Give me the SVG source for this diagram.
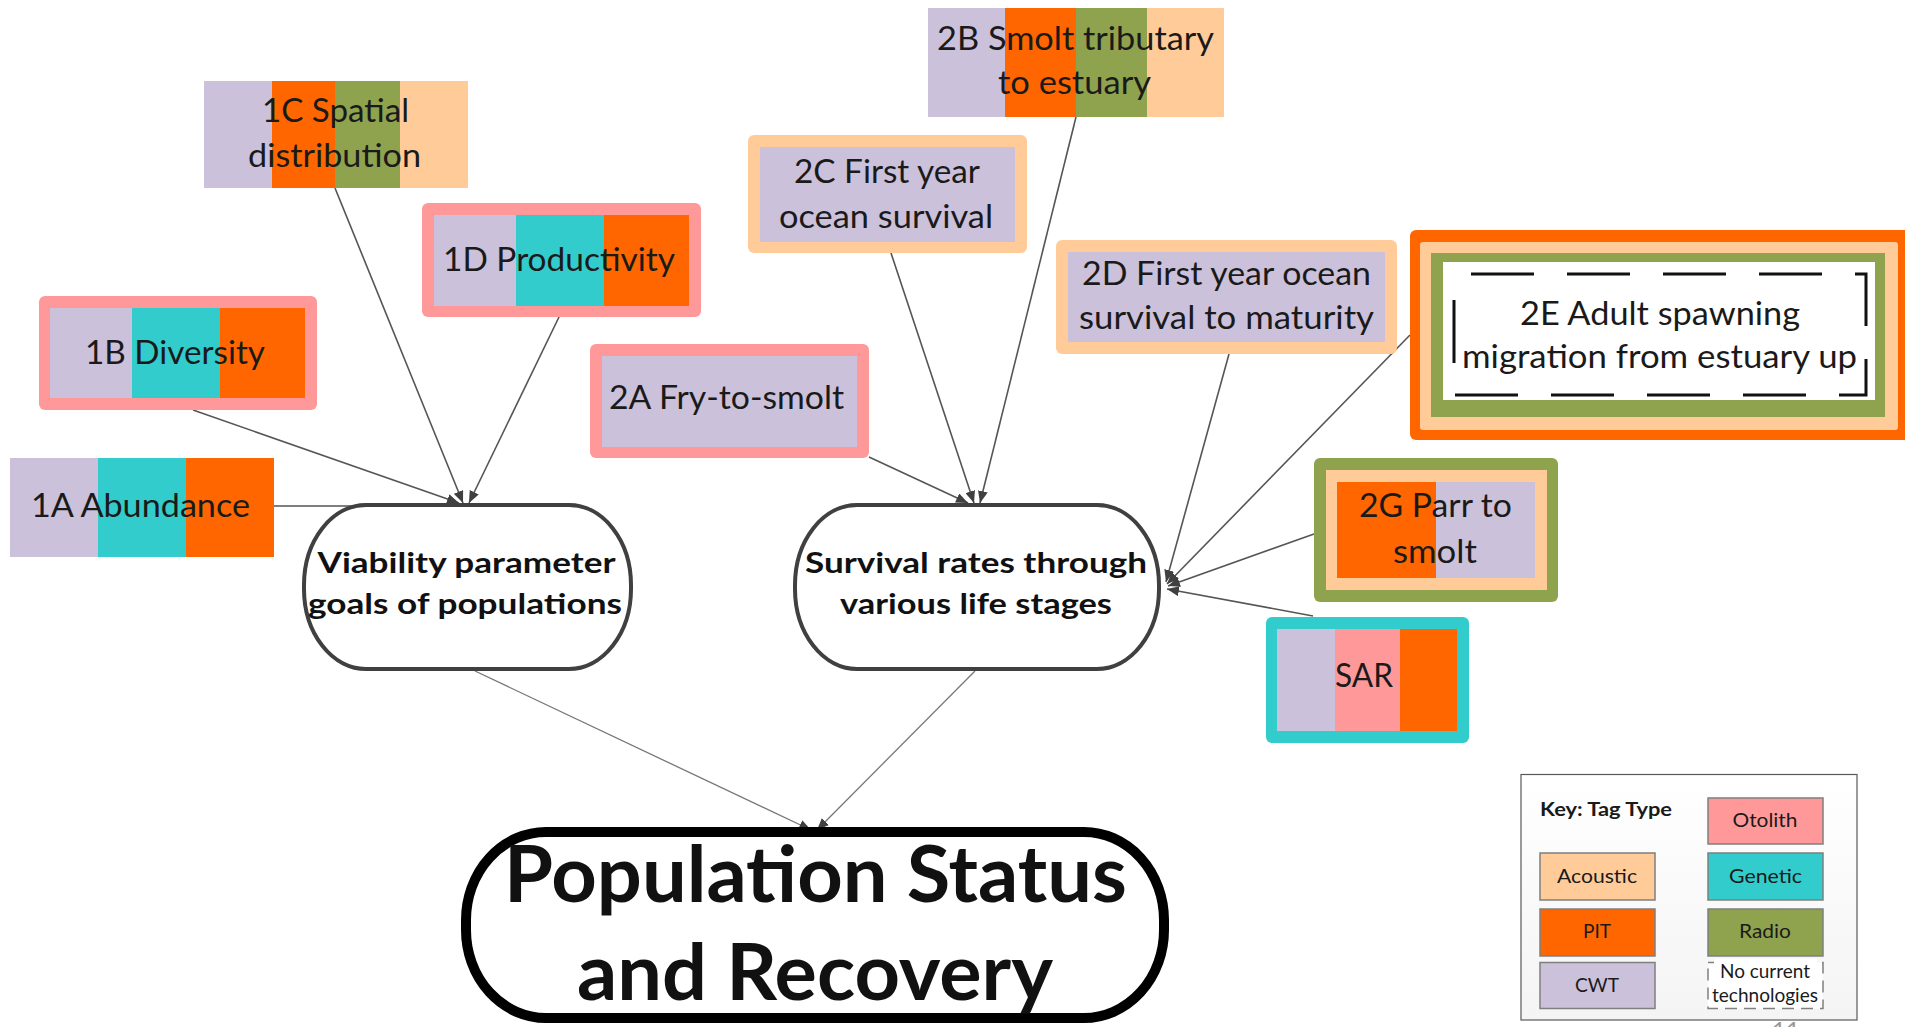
<svg xmlns="http://www.w3.org/2000/svg" width="1905" height="1027" viewBox="0 0 1905 1027">
<defs>
<style>
.t{font-family:Lato,"Liberation Sans",sans-serif;font-size:32px;fill:#1a1a1a;text-anchor:middle}
.b{font-family:Lato,"Liberation Sans",sans-serif;font-weight:bold;fill:#111;text-anchor:middle}
.cwt{fill:#ccc1da}.pit{fill:#ff6600}.radio{fill:#8fa34f}.acou{fill:#ffcc99}.gen{fill:#33cccc}.oto{fill:#ff9999}
.conn line{stroke:#555;stroke-width:1.6;marker-end:url(#ah)}
.node{fill:#fff;stroke:#404040;stroke-width:4}
.k{font-family:Lato,"Liberation Sans",sans-serif;font-size:20px;fill:#1a1a1a;text-anchor:middle}
.sw{stroke:#7f7f7f;stroke-width:1.5}
</style>
<marker id="ah" viewBox="0 0 12 10" refX="12" refY="5" markerWidth="12" markerHeight="10" markerUnits="userSpaceOnUse" orient="auto"><path d="M0,0 L12,5 L0,10 z" fill="#404040"/></marker>
<linearGradient id="kg" x1="0" y1="0" x2="0" y2="1"><stop offset="0" stop-color="#fff"/><stop offset="1" stop-color="#f4f4f4"/></linearGradient>
</defs>
<rect width="1905" height="1027" fill="#fff"/>

<g id="connectors" class="conn">
<line x1="335" y1="188" x2="463" y2="503"/>
<line x1="559" y1="317" x2="469" y2="503"/>
<line x1="193" y1="410" x2="459" y2="503"/>
<line x1="274" y1="506" x2="420" y2="506" style="marker-end:none"/>
<line x1="869" y1="457" x2="968" y2="503"/>
<line x1="891" y1="253" x2="974" y2="503"/>
<line x1="1076" y1="117" x2="980" y2="503"/>
<line x1="1229" y1="354" x2="1166" y2="582"/>
<line x1="1410" y1="335" x2="1167" y2="584"/>
<line x1="1314" y1="534" x2="1168" y2="586"/>
<line x1="1313" y1="616" x2="1167" y2="589"/>
<line x1="475" y1="671" x2="811" y2="830" style="stroke:#777;stroke-width:1.3"/>
<line x1="975" y1="671" x2="817" y2="830" style="stroke:#777;stroke-width:1.3"/>
</g>

<g id="n1C">
<rect class="cwt" x="204" y="81" width="68" height="107"/>
<rect class="pit" x="272" y="81" width="63" height="107"/>
<rect class="radio" x="335" y="81" width="65" height="107"/>
<rect class="acou" x="400" y="81" width="68" height="107"/>
<text class="t" x="335.5" y="122" textLength="147" lengthAdjust="spacingAndGlyphs">1C Spatial</text>
<text class="t" x="334.5" y="167" textLength="173" lengthAdjust="spacingAndGlyphs">distribution</text>
</g>

<g id="n1D">
<rect class="oto" x="422" y="203" width="279" height="114" rx="6"/>
<rect class="cwt" x="434" y="215" width="82" height="91"/>
<rect class="gen" x="516" y="215" width="88" height="91"/>
<rect class="pit" x="604" y="215" width="85" height="91"/>
<text class="t" x="559" y="271" textLength="232" lengthAdjust="spacingAndGlyphs">1D Productivity</text>
</g>

<g id="n1B">
<rect class="oto" x="39" y="296" width="278" height="114" rx="6"/>
<rect class="cwt" x="50" y="308" width="82" height="90"/>
<rect class="gen" x="132" y="308" width="88" height="90"/>
<rect class="pit" x="220" y="308" width="85" height="90"/>
<text class="t" x="175" y="364" textLength="180" lengthAdjust="spacingAndGlyphs">1B Diversity</text>
</g>

<g id="n1A">
<rect class="cwt" x="10" y="458" width="88" height="99"/>
<rect class="gen" x="98" y="458" width="88" height="99"/>
<rect class="pit" x="186" y="458" width="88" height="99"/>
<text class="t" x="140.5" y="517" textLength="219" lengthAdjust="spacingAndGlyphs">1A Abundance</text>
</g>

<g id="n2A">
<rect class="oto" x="590" y="344" width="279" height="114" rx="6"/>
<rect class="cwt" x="602" y="356" width="255" height="91"/>
<text class="t" x="726.5" y="409" textLength="235" lengthAdjust="spacingAndGlyphs">2A Fry-to-smolt</text>
</g>

<g id="n2C">
<rect class="acou" x="748" y="135" width="279" height="118" rx="6"/>
<rect class="cwt" x="760" y="147" width="255" height="95"/>
<text class="t" x="887" y="183" textLength="186" lengthAdjust="spacingAndGlyphs">2C First year</text>
<text class="t" x="886" y="228" textLength="214" lengthAdjust="spacingAndGlyphs">ocean survival</text>
</g>

<g id="n2B">
<rect class="cwt" x="928" y="8" width="77" height="109"/>
<rect class="pit" x="1005" y="8" width="71" height="109"/>
<rect class="radio" x="1076" y="8" width="71" height="109"/>
<rect class="acou" x="1147" y="8" width="77" height="109"/>
<text class="t" x="1075.5" y="50" textLength="277" lengthAdjust="spacingAndGlyphs">2B Smolt tributary</text>
<text class="t" x="1074.5" y="94" textLength="153" lengthAdjust="spacingAndGlyphs">to estuary</text>
</g>

<g id="n2D">
<rect class="acou" x="1056" y="240" width="341" height="114" rx="6"/>
<rect class="cwt" x="1068" y="252" width="317" height="90"/>
<text class="t" x="1226.5" y="285" textLength="289" lengthAdjust="spacingAndGlyphs">2D First year ocean</text>
<text class="t" x="1226.5" y="329" textLength="295" lengthAdjust="spacingAndGlyphs">survival to maturity</text>
</g>

<g id="n2E">
<rect class="pit" x="1410" y="230" width="510" height="210" rx="6"/>
<rect class="acou" x="1420" y="242" width="478" height="188" rx="3"/>
<rect class="radio" x="1431" y="253" width="454" height="164"/>
<rect fill="#fff" x="1443" y="262" width="432" height="138"/>
<rect x="1454" y="274" width="412" height="121" fill="none" stroke="#111" stroke-width="3" stroke-dasharray="63 33" stroke-dashoffset="79"/>
<text class="t" x="1660" y="325" textLength="280" lengthAdjust="spacingAndGlyphs">2E Adult spawning</text>
<text class="t" x="1659.5" y="368" textLength="395" lengthAdjust="spacingAndGlyphs">migration from estuary up</text>
</g>

<g id="n2G">
<rect class="radio" x="1314" y="458" width="244" height="144" rx="6"/>
<rect class="acou" x="1326" y="470" width="221" height="120"/>
<rect class="pit" x="1337" y="482" width="99" height="96"/>
<rect class="cwt" x="1436" y="482" width="99" height="96"/>
<text class="t" x="1435.5" y="517" textLength="153" lengthAdjust="spacingAndGlyphs">2G Parr to</text>
<text class="t" x="1435" y="563" textLength="84" lengthAdjust="spacingAndGlyphs">smolt</text>
</g>

<g id="nSAR">
<rect class="gen" x="1266" y="617" width="203" height="126" rx="6"/>
<rect class="cwt" x="1277" y="629" width="58" height="102"/>
<rect class="oto" x="1335" y="629" width="65" height="102"/>
<rect class="pit" x="1400" y="629" width="57" height="102"/>
<text class="t" x="1364" y="687" textLength="58" lengthAdjust="spacingAndGlyphs">SAR</text>
</g>

<g id="viability">
<rect class="node" x="304" y="505" width="327" height="164" rx="62" ry="80"/>
<text class="b" x="466.5" y="573" font-size="28" textLength="298" lengthAdjust="spacingAndGlyphs">Viability parameter</text>
<text class="b" x="465" y="614" font-size="28" textLength="314" lengthAdjust="spacingAndGlyphs">goals of populations</text>
</g>

<g id="survival">
<rect class="node" x="795" y="505" width="364" height="164" rx="62" ry="80"/>
<text class="b" x="976" y="573" font-size="28" textLength="342" lengthAdjust="spacingAndGlyphs">Survival rates through</text>
<text class="b" x="976" y="614" font-size="28" textLength="272" lengthAdjust="spacingAndGlyphs">various life stages</text>
</g>

<g id="population">
<rect x="466" y="832" width="698" height="186" rx="80" ry="88" fill="#fff" stroke="#000" stroke-width="10"/>
<text class="b" x="815.5" y="902" font-size="78" fill="#000" textLength="623" lengthAdjust="spacingAndGlyphs">Population Status</text>
<text class="b" x="815" y="1000" font-size="78" fill="#000" textLength="476" lengthAdjust="spacingAndGlyphs">and Recovery</text>
</g>

<g id="key">
<rect x="1521" y="774.5" width="336" height="245.5" fill="url(#kg)" stroke="#595959" stroke-width="1.2"/>
<text x="1540" y="816" font-family="Lato,'Liberation Sans',sans-serif" font-weight="bold" font-size="19" fill="#1a1a1a" textLength="132" lengthAdjust="spacingAndGlyphs">Key: Tag Type</text>
<rect class="oto sw" x="1708" y="798" width="115" height="46"/>
<text class="k" x="1765" y="827" textLength="65" lengthAdjust="spacingAndGlyphs">Otolith</text>
<rect class="acou sw" x="1540" y="853" width="115" height="47"/>
<text class="k" x="1597" y="883" textLength="80" lengthAdjust="spacingAndGlyphs">Acoustic</text>
<rect class="gen sw" x="1708" y="853" width="115" height="47"/>
<text class="k" x="1765.5" y="883" textLength="73" lengthAdjust="spacingAndGlyphs">Genetic</text>
<rect class="pit sw" x="1540" y="909" width="115" height="47"/>
<text class="k" x="1597" y="938" textLength="28" lengthAdjust="spacingAndGlyphs">PIT</text>
<rect class="radio sw" x="1708" y="909" width="115" height="47"/>
<text class="k" x="1765" y="938" textLength="52" lengthAdjust="spacingAndGlyphs">Radio</text>
<rect class="cwt sw" x="1540" y="962.5" width="115" height="46"/>
<text class="k" x="1597" y="992" textLength="44" lengthAdjust="spacingAndGlyphs">CWT</text>
<rect x="1708" y="962.5" width="115" height="46" fill="#fff" stroke="#7f7f7f" stroke-width="1.5" stroke-dasharray="12 7"/>
<rect x="1714" y="959" width="103" height="24" fill="#fff"/>
<text class="k" x="1765" y="978" font-size="16" textLength="90" lengthAdjust="spacingAndGlyphs">No current</text>
<text class="k" x="1765" y="1002" font-size="16" textLength="106" lengthAdjust="spacingAndGlyphs">technologies</text>
<text x="1786" y="1039" font-family="Lato,'Liberation Sans',sans-serif" font-size="24" fill="#999" text-anchor="middle">11</text>
</g>
</svg>
